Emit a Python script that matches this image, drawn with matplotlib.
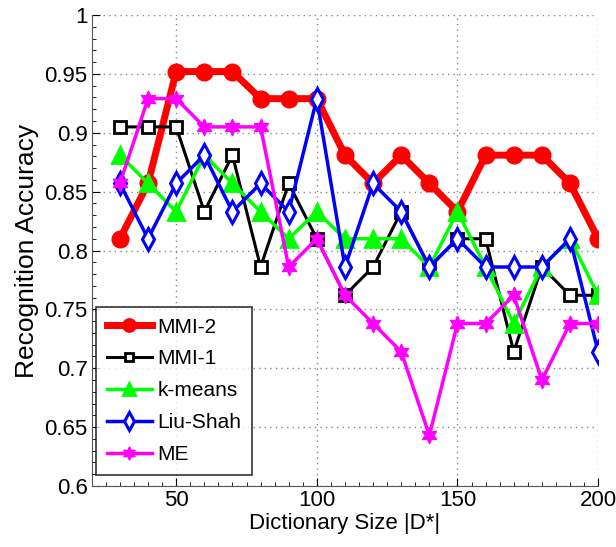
import matplotlib
matplotlib.use("Agg")
import matplotlib.pyplot as plt
from matplotlib.ticker import MultipleLocator
from matplotlib import font_manager

plt.rcParams['font.family'] = ['Liberation Sans', 'DejaVu Sans']
_names = {f.name for f in font_manager.fontManager.ttflist}
narrow = 'Liberation Sans Narrow' in _names

dict_size = [30, 40, 50, 60, 70, 80, 90, 100, 110, 120, 130, 140, 150, 160, 170, 180, 190, 200]
mmi2 = [0.810, 0.857, 0.952, 0.952, 0.952, 0.929, 0.929, 0.929, 0.881, 0.857,
        0.881, 0.857, 0.833, 0.881, 0.881, 0.881, 0.857, 0.810]
mmi1 = [0.905, 0.905, 0.905, 0.833, 0.881, 0.786, 0.857, 0.810, 0.762, 0.786,
        0.833, 0.786, 0.810, 0.810, 0.714, 0.786, 0.762, 0.762]
kmeans = [0.881, 0.857, 0.833, 0.881, 0.857, 0.833, 0.810, 0.833, 0.810, 0.810,
          0.810, 0.786, 0.833, 0.786, 0.738, 0.786, 0.810, 0.762]
liushah = [0.857, 0.810, 0.857, 0.881, 0.833, 0.857, 0.833, 0.929, 0.786, 0.857,
           0.833, 0.786, 0.810, 0.786, 0.786, 0.786, 0.810, 0.714]
me = [0.857, 0.929, 0.929, 0.905, 0.905, 0.905, 0.786, 0.810, 0.762, 0.738,
      0.714, 0.643, 0.738, 0.738, 0.762, 0.690, 0.738, 0.738]
labels = ['MMI-2', 'MMI-1', 'k-means', 'Liu-Shah', 'ME']
yticks = [0.6, 0.65, 0.7, 0.75, 0.8, 0.85, 0.9, 0.95, 1.0]
ytick_labels = ['0.6', '0.65', '0.7', '0.75', '0.8', '0.85', '0.9', '0.95', '1']
xticks = [50, 100, 150, 200]

fig = plt.figure(figsize=(6.16, 5.47), dpi=100)
ax = fig.add_axes([0.149, 0.1115, 0.822, 0.861])

ax.plot(dict_size, mmi2, color='#ff0000', lw=5, marker='o', ms=12,
        mfc='#ff0000', mec='#ff0000', label=labels[0], zorder=3)
ax.plot(dict_size, mmi1, color='black', lw=2.2, marker='s', ms=8,
        mfc='white', mec='black', mew=2, label=labels[1], zorder=4)
ax.plot(dict_size, kmeans, color='#00ff00', lw=2.5, marker='^', ms=11,
        mfc='#00ff00', mec='#00ff00', mew=2, label=labels[2], zorder=5)
ax.plot(dict_size, liushah, color='#0000ff', lw=2.5, marker='d', ms=11,
        mfc='white', mec='#0000ff', mew=2.2, label=labels[3], zorder=6)
ax.plot(dict_size, me, color='#ff00ff', lw=2.5, marker=(6, 1, 0), ms=12,
        mfc='#ff00ff', mec='#ff00ff', label=labels[4], zorder=7)

ax.set_xlim(20, 200)
ax.set_ylim(0.6, 1.0)
ax.set_xticks(xticks)
ax.set_yticks(yticks)
ax.set_yticklabels(ytick_labels)
ax.xaxis.set_minor_locator(MultipleLocator(5))
ax.yaxis.set_minor_locator(MultipleLocator(0.01))
ax.grid(True, which='major', linestyle=(0, (1, 3)), color='#888888', lw=1)
ax.tick_params(which='both', direction='in', labelsize=16, top=False, right=False)
ax.tick_params(which='major', length=6, pad=3)
ax.tick_params(which='minor', length=3)
for s in ['top', 'right']:
    ax.spines[s].set_visible(False)
for s in ['left', 'bottom']:
    ax.spines[s].set_color('#555555')

ax.set_xlabel('Dictionary Size |D*|', fontsize=16, labelpad=1)
ax.set_ylabel('Recognition Accuracy', fontsize=19, labelpad=4)

if narrow:
    leg_font = {'family': ['Liberation Sans Narrow', 'DejaVu Sans'], 'size': 18}
    fs = 18
else:
    leg_font = {'family': ['Liberation Sans', 'DejaVu Sans'], 'size': 15}
    fs = 15
em = fs * 100 / 72.0
leg = ax.legend(loc='lower left', prop=leg_font, handlelength=45 / em,
                frameon=True, fancybox=False, edgecolor='black',
                borderpad=0.5, labelspacing=0.62, handletextpad=6 / em,
                borderaxespad=0.5, markerscale=0.8,
                bbox_to_anchor=(-6 / 506, 1 / 471))
leg.get_frame().set_linewidth(1.2)

fig.savefig('out.png', dpi=100)
